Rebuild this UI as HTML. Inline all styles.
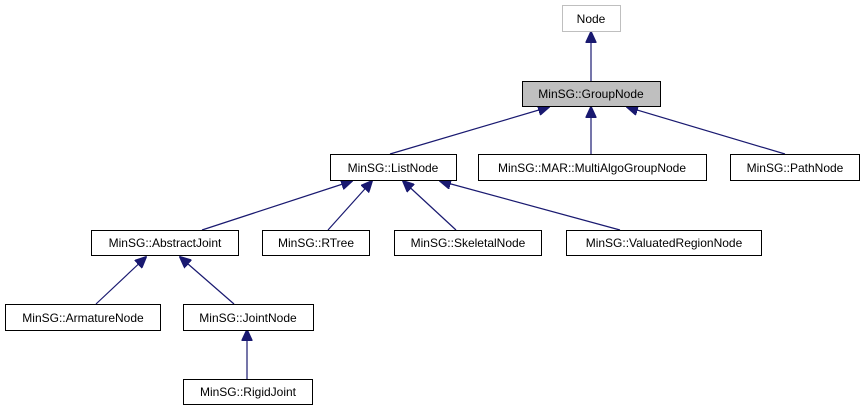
<!DOCTYPE html>
<html><head><style>
body{margin:0;background:#fff;width:864px;height:411px;overflow:hidden}
svg text{font-family:"Liberation Sans",sans-serif;font-size:12px;text-anchor:middle}
</style></head><body>
<svg width="864" height="411" viewBox="0 0 864 411" xmlns="http://www.w3.org/2000/svg">
<defs><marker id="a" markerWidth="12" markerHeight="11" refX="11" refY="5.5" orient="auto" markerUnits="userSpaceOnUse"><path d="M0,0 L12,5.5 L0,11 z" fill="#191970" stroke="#191970"/></marker></defs>
<g stroke="#191970" stroke-width="1.2" fill="none" marker-end="url(#a)">
<line x1="591" y1="82" x2="591" y2="32"/>
<line x1="390" y1="154" x2="549" y2="107"/>
<line x1="591" y1="154" x2="591" y2="107"/>
<line x1="785" y1="154" x2="627" y2="107"/>
<line x1="202" y1="230" x2="352" y2="181"/>
<line x1="328" y1="230" x2="372" y2="181"/>
<line x1="456" y1="230" x2="403" y2="181"/>
<line x1="620" y1="230" x2="440" y2="181"/>
<line x1="96" y1="304" x2="146" y2="257"/>
<line x1="234" y1="304" x2="180" y2="257"/>
<line x1="247" y1="379" x2="247" y2="330"/>
</g>
<g stroke-width="1" fill="#fff" stroke="#000">
<rect x="562.5" y="5.5" width="58" height="26" stroke="#bfbfbf"/>
<rect x="522.5" y="81.5" width="138" height="25" fill="#bfbfbf"/>
<rect x="330.5" y="154.5" width="126" height="26"/>
<rect x="478.5" y="154.5" width="228" height="26"/>
<rect x="730.5" y="154.5" width="129" height="26"/>
<rect x="91.5" y="230.5" width="147" height="25"/>
<rect x="262.5" y="230.5" width="107" height="25"/>
<rect x="394.5" y="230.5" width="147" height="25"/>
<rect x="566.5" y="230.5" width="195" height="25"/>
<rect x="5.5" y="304.5" width="155" height="26"/>
<rect x="183.5" y="304.5" width="130" height="26"/>
<rect x="183.5" y="379.5" width="129" height="25"/>
</g>
<g fill="#000">
<text x="591" y="23">Node</text>
<text x="591" y="98">MinSG::GroupNode</text>
<text x="393" y="172">MinSG::ListNode</text>
<text x="592" y="172">MinSG::MAR::MultiAlgoGroupNode</text>
<text x="795" y="172">MinSG::PathNode</text>
<text x="165" y="247">MinSG::AbstractJoint</text>
<text x="316" y="247">MinSG::RTree</text>
<text x="468" y="247">MinSG::SkeletalNode</text>
<text x="664" y="247">MinSG::ValuatedRegionNode</text>
<text x="83" y="322">MinSG::ArmatureNode</text>
<text x="248" y="322">MinSG::JointNode</text>
<text x="248" y="396">MinSG::RigidJoint</text>
</g>
</svg>
</body></html>
